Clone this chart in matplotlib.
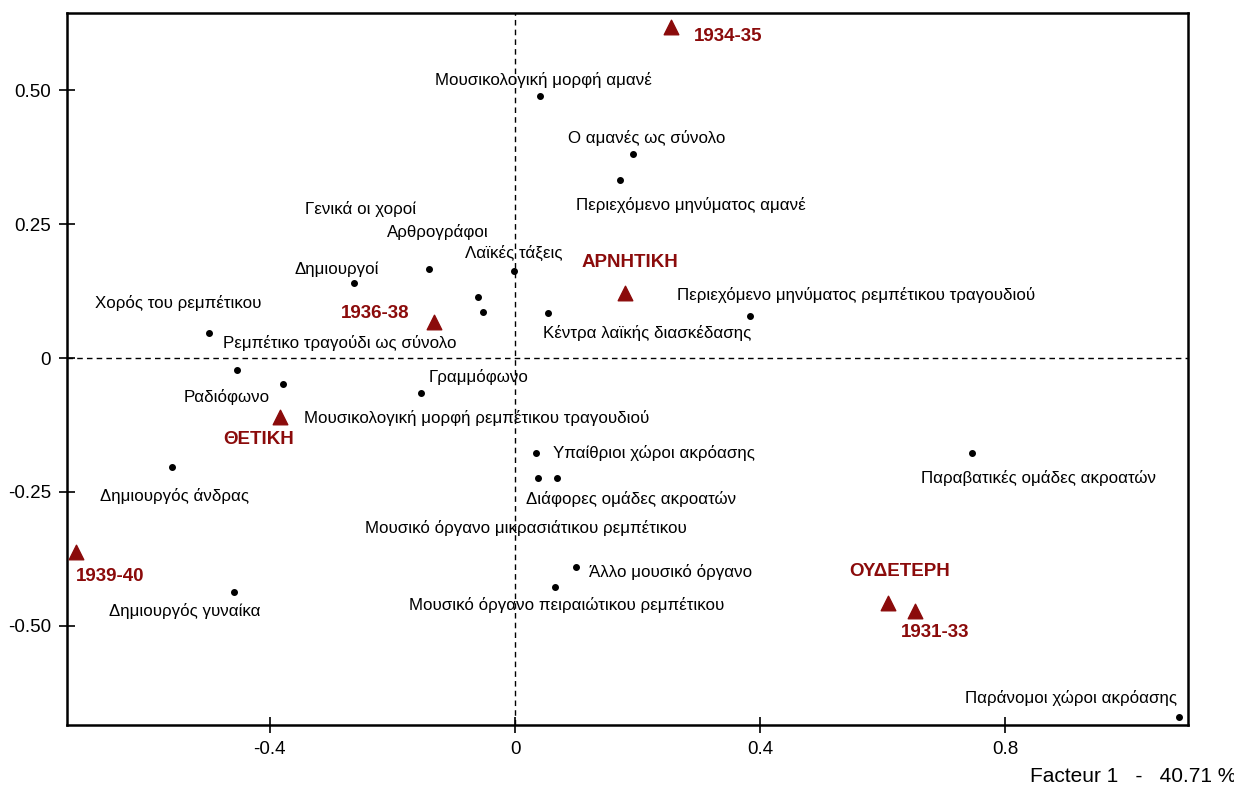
import numpy as np
from matplotlib import pyplot as plt

# active points (black dots)
labels = [
    'Μουσικολογική μορφή αμανέ', 'Ο αμανές ως σύνολο', 'Περιεχόμενο μηνύματος αμανέ',
    'Γενικά οι χοροί', 'Λαϊκές τάξεις', 'Αρθρογράφοι', 'Ρεμπέτικο τραγούδι ως σύνολο',
    'Δημιουργοί', 'Κέντρα λαϊκής διασκέδασης', 'Περιεχόμενο μηνύματος ρεμπέτικου τραγουδιού',
    'Χορός του ρεμπέτικου', 'Ραδιόφωνο', 'Μουσικολογική μορφή ρεμπέτικου τραγουδιού',
    'Γραμμόφωνο', 'Υπαίθριοι χώροι ακρόασης', 'Μουσικό όργανο μικρασιάτικου ρεμπέτικου',
    'Διάφορες ομάδες ακροατών', 'Παραβατικές ομάδες ακροατών', 'Δημιουργός άνδρας',
    'Άλλο μουσικό όργανο', 'Μουσικό όργανο πειραιώτικου ρεμπέτικου', 'Δημιουργός γυναίκα',
    'Παράνομοι χώροι ακρόασης',
]
f1 = [0.040, 0.192, 0.172, -0.141, -0.001, -0.060, -0.053, -0.263, 0.053, 0.384,
      -0.500, -0.453, -0.378, -0.153, 0.035, 0.037, 0.068, 0.745, -0.559,
      0.100, 0.066, -0.459, 1.084]
f2 = [0.489, 0.381, 0.332, 0.166, 0.162, 0.114, 0.086, 0.140, 0.084, 0.078,
      0.047, -0.022, -0.049, -0.065, -0.177, -0.224, -0.224, -0.177, -0.203,
      -0.390, -0.427, -0.437, -0.670]

# supplementary points (red triangles)
sup_labels = ['1934-35', 'ΑΡΝΗΤΙΚΗ', '1936-38', 'ΘΕΤΙΚΗ', '1939-40', 'ΟΥΔΕΤΕΡΗ', '1931-33']
sup_f1 = [0.254, 0.180, -0.133, -0.383, -0.717, 0.608, 0.653]
sup_f2 = [0.618, 0.121, 0.067, -0.110, -0.362, -0.457, -0.472]

# label offsets in pixels (layout only)
offs = [(4, 16), (14, 16), (70, -25), (-68, 60), (-1, 18), (-40, 65), (-143, -31),
        (-17, 14), (100, -20), (106, 21), (-30, 30), (-11, -27), (193, -34),
        (57, 16), (117, 0), (-12, -50), (74, -21), (67, -25), (2, -29),
        (94, -5), (11, -18), (-49, -19), (-108, 19)]
sup_offs = [(57, -10), (5, 31), (-58, 9), (-22, -23), (35, -25), (12, 31), (20, -22)]

red = '#8b0b0b'
reg = ['Liberation Sans', 'DejaVu Sans']
plt.rcParams['font.family'] = reg

fig = plt.figure(figsize=(12.34, 7.89), dpi=100)
ax = fig.add_axes([0.0543, 0.0811, 0.9084, 0.9024])

ax.axhline(0, color='black', lw=1, dashes=(4, 3), zorder=1)
ax.axvline(0, color='black', lw=1, dashes=(4, 3), zorder=1)

ax.scatter(f1, f2, s=16, color='black', zorder=3)
for lab, x, y, o in zip(labels, f1, f2, offs):
    ax.annotate(lab, (x, y), xytext=o, textcoords='offset pixels',
                ha='center', va='center', fontsize=12.2)

ax.scatter(sup_f1, sup_f2, s=110, marker='^', color=red, zorder=3)
for lab, x, y, o in zip(sup_labels, sup_f1, sup_f2, sup_offs):
    ax.annotate(lab, (x, y), xytext=o, textcoords='offset pixels',
                ha='center', va='center', fontsize=13.5, fontweight='bold',
                color=red)

ax.set_xlim(-0.731, 1.098)
ax.set_ylim(-0.685, 0.644)
ax.set_xticks([-0.4, 0, 0.4, 0.8])
ax.set_xticklabels(['-0.4', '0', '0.4', '0.8'])
ax.set_yticks([-0.5, -0.25, 0, 0.25, 0.5])
ax.set_yticklabels(['-0.50', '-0.25', '0', '0.25', '0.50'])
ax.tick_params(direction='inout', length=11, width=1.2, labelsize=13.5, pad=6)
for sp in ax.spines.values():
    sp.set_linewidth(1.8)

fig.text(1030 / 1234, 1 - 777 / 789, 'Facteur 1   -   40.71 %', fontsize=15,
         ha='left', va='center')

fig.savefig('out.png', dpi=100)
